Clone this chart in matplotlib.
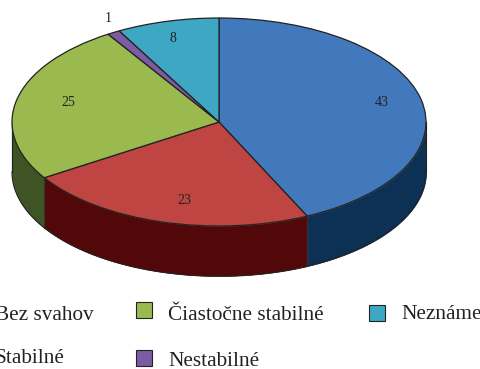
import numpy as np
import matplotlib
matplotlib.use('Agg')
import matplotlib.pyplot as plt
from matplotlib.patches import Rectangle

plt.rcParams['font.family'] = ['Liberation Serif', 'DejaVu Serif']

nazvy = ['Bez svahov', 'Stabilné', 'Čiastočne stabilné', 'Nestabilné', 'Neznáme']
hodnoty = [43, 23, 25, 1, 8]
farby = ['#4279BC', '#BE4541', '#9ABA50', '#7C5BA3', '#3EA8C4']
farby_bok = ['#0D3055', '#520808', '#3F5424', '#3A2A52', '#17505F']

W, H = 481, 369
cx, cy, rx, ry = 219, 122, 207, 104
hlbka = 50 / ry

fig = plt.figure(figsize=(W / 100, H / 100), dpi=100)
ax = fig.add_axes([0, 0, 1, 1])

# uhly hran vysekov, v smere hodinovych ruciciek od 90 stupnov
podiely = np.array(hodnoty) / sum(hodnoty) * 360
hrany = 90 - np.concatenate([[0], np.cumsum(podiely)])

# bocna stena, viditelna len v spodnej polovici elipsy
for i in range(len(hodnoty)):
    od = hrany[i + 1] % 360
    po = hrany[i] % 360
    if po <= od:
        po += 360
    t = np.radians(np.linspace(max(od, 180), min(po, 360), 100))
    if od >= 360 or min(po, 360) <= max(od, 180):
        continue
    ax.fill_between(np.cos(t), np.sin(t) - hlbka, np.sin(t), color=farby_bok[i],
                    lw=0.5, zorder=1)
    ax.plot(np.cos(t), np.sin(t) - hlbka, color='#222222', lw=0.8, zorder=2)
    ax.plot([np.cos(t[0])] * 2, [np.sin(t[0]), np.sin(t[0]) - hlbka],
            color='#333333', lw=0.8, zorder=2)
ax.plot([-1, -1], [0, -hlbka], color='#222222', lw=0.8, zorder=2)
ax.plot([1, 1], [0, -hlbka], color='#222222', lw=0.8, zorder=2)

ax.pie(hodnoty, colors=farby, startangle=90, counterclock=False,
       wedgeprops={'edgecolor': '#222222', 'linewidth': 0.9, 'zorder': 3})

ax.set_aspect('auto')
ax.set_xlim(-cx / rx, (W - cx) / rx)
ax.set_ylim((cy - H) / ry, cy / ry)
ax.axis('off')

# popisky hodnot, v pixeloch obrazka
popis_x = [382, 184, 68, 108, 173]
popis_y = [103, 201, 103, 18, 38]
for i, h in enumerate(hodnoty):
    fig.text(popis_x[i] / W, 1 - popis_y[i] / H, str(h),
             ha='center', va='center', fontsize=10, color='#222222')

# legenda, v pixeloch obrazka
legenda_x = [-37, -37, 136, 136, 369]
legenda_y = [310, 357, 310, 358, 313]
text_y = [320, 363, 320, 366, 319]
for i, n in enumerate(nazvy):
    x, y = legenda_x[i], legenda_y[i]
    fig.add_artist(Rectangle((x / W, 1 - (y + 8) / H), 16 / W, 16 / H, transform=fig.transFigure,
                             facecolor=farby[i], edgecolor='#222222', lw=0.8))
    fig.text((x + 32) / W, 1 - text_y[i] / H, n, fontsize=15.3, color='#222222',
             ha='left', va='baseline')

fig.savefig('out.png', dpi=100)
